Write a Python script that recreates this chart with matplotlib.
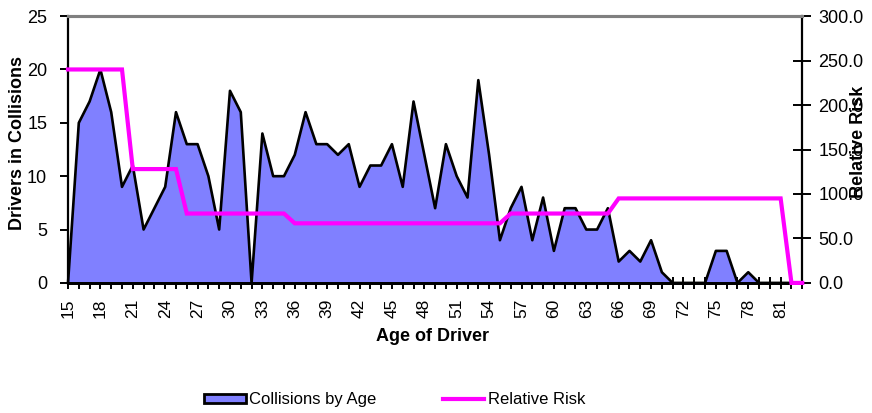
import matplotlib
matplotlib.use('Agg')
import matplotlib.pyplot as plt
from matplotlib.patches import Patch
from matplotlib.lines import Line2D
from matplotlib.ticker import MultipleLocator, FormatStrFormatter

plt.rcParams['font.family'] = ['Liberation Sans', 'DejaVu Sans']

ages = list(range(15, 84))
collisions = [0, 15, 17, 20, 16, 9, 11, 5, 7, 9,
              16, 13, 13, 10, 5, 18, 16, 0, 14, 10,
              10, 12, 16, 13, 13, 12, 13, 9, 11, 11,
              13, 9, 17, 12, 7, 13, 10, 8, 19, 12,
              4, 7, 9, 4, 8, 3, 7, 7, 5, 5,
              7, 2, 3, 2, 4, 1, 0, 0, 0, 0,
              3, 3, 0, 1, 0, 0, 0, 0, 0]
relative_risk = [240] * 6 + [128] * 5 + [78] * 10 + [67] * 20 + [78] * 10 + [95] * 16 + [0] * 2
tick_ages = list(range(15, 82, 3))

fig = plt.figure(figsize=(8.72, 4.13), dpi=100)
ax = fig.add_axes([0.078, 0.315, 0.842, 0.646])
ax2 = ax.twinx()

ax.fill_between(ages, collisions, 0, color='#8080FF', lw=0, zorder=2)
ax.plot(ages, collisions, color='black', lw=1.9, zorder=3, clip_on=False)
ax2.plot(ages, relative_risk, color='#FF00FF', lw=3, zorder=4, clip_on=False,
         solid_joinstyle='miter')

ax.set_xlim(15, 83)
ax.set_ylim(0, 25)
ax2.set_ylim(0, 300)

ax.xaxis.set_major_locator(MultipleLocator(3))
ax.xaxis.set_minor_locator(MultipleLocator(1))
ax.set_xticks(tick_ages)
ax.set_xticklabels([str(a) for a in tick_ages], rotation=90)
ax.yaxis.set_major_locator(MultipleLocator(5))
ax2.yaxis.set_major_locator(MultipleLocator(50))
ax2.yaxis.set_major_formatter(FormatStrFormatter('%.1f'))

ax.tick_params(axis='x', which='both', direction='inout', length=9, width=1.4,
               labelsize=12.5, pad=7)
ax.tick_params(axis='y', direction='out', length=6, width=1.4, labelsize=13, pad=9)
ax2.tick_params(axis='y', direction='inout', length=13, width=1.4, labelsize=13, pad=5)

for a in (ax, ax2):
    a.spines['top'].set_color('#808080')
    a.spines['top'].set_linewidth(2.2)
    a.spines['bottom'].set_linewidth(2)
ax.spines['left'].set_linewidth(1.6)
ax.spines['right'].set_visible(False)
ax2.spines['left'].set_visible(False)
ax2.spines['right'].set_linewidth(1.6)
ax.set_zorder(0)
ax2.set_zorder(1)
ax2.patch.set_visible(False)

fig.text(0.0206, 0.654, 'Drivers in Collisions', rotation=90, ha='center', va='center',
         fontsize=13, fontweight='bold')
fig.text(0.984, 0.656, 'Relative Risk', rotation=90, ha='center', va='center',
         fontsize=13, fontweight='bold')
fig.text(0.496, 0.186, 'Age of Driver', ha='center', va='center',
         fontsize=13, fontweight='bold')

handles = [Patch(facecolor='#8080FF', edgecolor='black', lw=2),
           Line2D([0], [0], color='#FF00FF', lw=3)]
fig.legend(handles, ['Collisions by Age', 'Relative Risk'], loc='center',
           bbox_to_anchor=(0.4524, 0.0315), ncol=2, frameon=False, fontsize=12,
           handlelength=2.5, handleheight=0.5, handletextpad=0.2, columnspacing=4)

plt.savefig('out.png', dpi=100)
